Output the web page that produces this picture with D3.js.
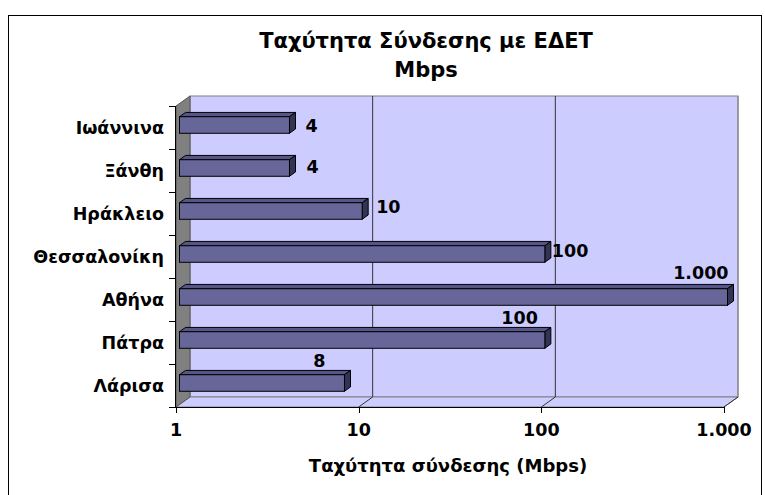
<!DOCTYPE html>
<html>
<head>
<meta charset="utf-8">
<script src="https://cdn.jsdelivr.net/npm/d3@7"></script>
<style>
  body { margin: 0; background: #fff; }
  svg text { font-family: "DejaVu Sans", Verdana, sans-serif; font-weight: bold; fill: #000; }
</style>
</head>
<body>
<svg id="chart" width="765" height="495"></svg>
<script>
(function () {
'use strict';

// data, top to bottom as in the picture
var cities = ['Ιωάννινα', 'Ξάνθη', 'Ηράκλειο', 'Θεσσαλονίκη', 'Αθήνα', 'Πάτρα', 'Λάρισα'];
var speeds = [4, 4, 10, 100, 1000, 100, 8];
var tickValues = [1, 10, 100, 1000];
var tickLabels = ['1', '10', '100', '1.000'];
var titleLines = ['Ταχύτητα Σύνδεσης με ΕΔΕΤ', 'Mbps'];
var xTitle = 'Ταχύτητα σύνδεσης (Mbps)';

// where each value label sits relative to the bar end (layout only)
var labelNudge = [
    { anchor: 'start', dx: 16, dy: 1 },
    { anchor: 'start', dx: 17, dy: -1 },
    { anchor: 'start', dx: 14, dy: -4 },
    { anchor: 'start', dx: 7, dy: -3 },
    { anchor: 'end', dx: 1, dy: -24 },
    { anchor: 'end', dx: -7, dy: -22 },
    { anchor: 'middle', dx: -25, dy: -22 }
];

var svg = d3.select('#chart');

// 3d depth of the plot box
var depthX = 14;
var depthY = -10;
var barFront = 0.25;
var barBack = 0.68;

var x = d3.scaleLog()
    .domain([1, 1000])
    .range([176, 724]);

var y = d3.scaleBand()
    .domain(cities)
    .range([106, 407])
    .padding(0);

var left = x.range()[0];
var right = x.range()[1];
var top = y.range()[0];
var bottom = y.range()[1];

function fmt(v) {
    return d3.format(',')(v).replace(/,/g, '.');
}

// outer border
svg.append('rect')
    .attr('x', 8.5)
    .attr('y', 15.5)
    .attr('width', 753)
    .attr('height', 490)
    .attr('fill', '#fff')
    .attr('stroke', '#000')
    .attr('stroke-width', 1);

function pts(list) {
    return list.map(function (p) { return p[0] + ',' + p[1]; }).join(' ');
}

// back wall
svg.append('rect')
    .attr('x', left + depthX)
    .attr('y', top + depthY)
    .attr('width', right - left)
    .attr('height', bottom - top)
    .attr('fill', '#ccccff')
    .attr('stroke', '#808080');

// floor
svg.append('polygon')
    .attr('points', pts([[left, bottom], [left + depthX, bottom + depthY], [right + depthX, bottom + depthY], [right, bottom]]))
    .attr('fill', '#ccccff')
    .attr('stroke', '#808080');

// side wall
svg.append('polygon')
    .attr('points', pts([[left, top], [left + depthX, top + depthY], [left + depthX, bottom + depthY], [left, bottom]]))
    .attr('fill', '#808080')
    .attr('stroke', '#555');

// grid lines on the back wall and floor
var grid = svg.append('g');
tickValues.slice(1).forEach(function (v) {
    grid.append('line')
        .attr('x1', x(v) + depthX).attr('x2', x(v) + depthX)
        .attr('y1', top + depthY).attr('y2', bottom + depthY)
        .attr('stroke', v === 1000 ? '#808080' : '#333')
        .attr('stroke-width', 1);
    grid.append('line')
        .attr('x1', x(v)).attr('x2', x(v) + depthX)
        .attr('y1', bottom).attr('y2', bottom + depthY)
        .attr('stroke', '#333');
});

// bars
var barH = y.bandwidth() * 0.385;
var fx = depthX * barFront, fy = depthY * barFront;
var bx = depthX * barBack, by = depthY * barBack;
var ox = bx - fx, oy = by - fy;

var bars = svg.append('g').selectAll('g')
    .data(cities)
    .enter().append('g');

bars.each(function (c, i) {
    var g = d3.select(this);
    var x0 = left + fx;
    var x1 = x(speeds[i]) + fx;
    var yc = y(c) + y.bandwidth() / 2 + fy;
    var y0 = yc - barH / 2;
    var y1 = yc + barH / 2;

    g.append('polygon')
        .attr('points', pts([[x0, y0], [x0 + ox, y0 + oy], [x1 + ox, y0 + oy], [x1, y0]]))
        .attr('fill', '#555588')
        .attr('stroke', '#000')
        .attr('stroke-linejoin', 'round');
    g.append('polygon')
        .attr('points', pts([[x1, y0], [x1 + ox, y0 + oy], [x1 + ox, y1 + oy], [x1, y1]]))
        .attr('fill', '#333355')
        .attr('stroke', '#000')
        .attr('stroke-linejoin', 'round');
    g.append('rect')
        .attr('x', x0)
        .attr('y', y0)
        .attr('width', x1 - x0)
        .attr('height', y1 - y0)
        .attr('fill', '#666699')
        .attr('stroke', '#000');

    var n = labelNudge[i];
    g.append('text')
        .attr('x', x1 + n.dx)
        .attr('y', yc + n.dy)
        .attr('dy', '0.36em')
        .attr('text-anchor', n.anchor)
        .style('font-size', '17.5px')
        .text(fmt(speeds[i]));
});

// y axis
var yAxis = svg.append('g');
yAxis.append('line')
    .attr('x1', left - 0.5).attr('x2', left - 0.5)
    .attr('y1', top).attr('y2', bottom)
    .attr('stroke', '#000');
d3.range(cities.length + 1).forEach(function (k) {
    var yy = Math.round(top + k * y.step()) + 0.5;
    yAxis.append('line')
        .attr('x1', left - 7).attr('x2', left)
        .attr('y1', yy).attr('y2', yy)
        .attr('stroke', '#000');
});
yAxis.selectAll('text')
    .data(cities)
    .enter().append('text')
    .attr('x', 164)
    .attr('y', function (d) { return y(d) + y.bandwidth() / 2; })
    .attr('dy', '0.36em')
    .attr('text-anchor', 'end')
    .style('font-size', '17.5px')
    .text(function (d) { return d; });

// x axis
var xAxis = svg.append('g');
xAxis.append('line')
    .attr('x1', left).attr('x2', right)
    .attr('y1', bottom + 0.5).attr('y2', bottom + 0.5)
    .attr('stroke', '#000');
xAxis.selectAll('line.tick')
    .data(tickValues)
    .enter().append('line')
    .attr('class', 'tick')
    .attr('x1', function (d) { return Math.round(x(d)) + 0.5; })
    .attr('x2', function (d) { return Math.round(x(d)) + 0.5; })
    .attr('y1', bottom).attr('y2', bottom + 6)
    .attr('stroke', '#000');
xAxis.selectAll('text')
    .data(tickValues)
    .enter().append('text')
    .attr('x', function (d) { return x(d); })
    .attr('y', 436)
    .attr('text-anchor', 'middle')
    .style('font-size', '17.5px')
    .text(function (d, i) { return tickLabels[i]; });

svg.append('text')
    .attr('x', 448)
    .attr('y', 472)
    .attr('text-anchor', 'middle')
    .style('font-size', '18px')
    .text(xTitle);

// title
svg.append('g').selectAll('text')
    .data(titleLines)
    .enter().append('text')
    .attr('x', 426)
    .attr('y', function (d, i) { return 48 + i * 28.5; })
    .attr('text-anchor', 'middle')
    .style('font-size', '21px')
    .text(function (d) { return d; });
})();
</script>
</body>
</html>
